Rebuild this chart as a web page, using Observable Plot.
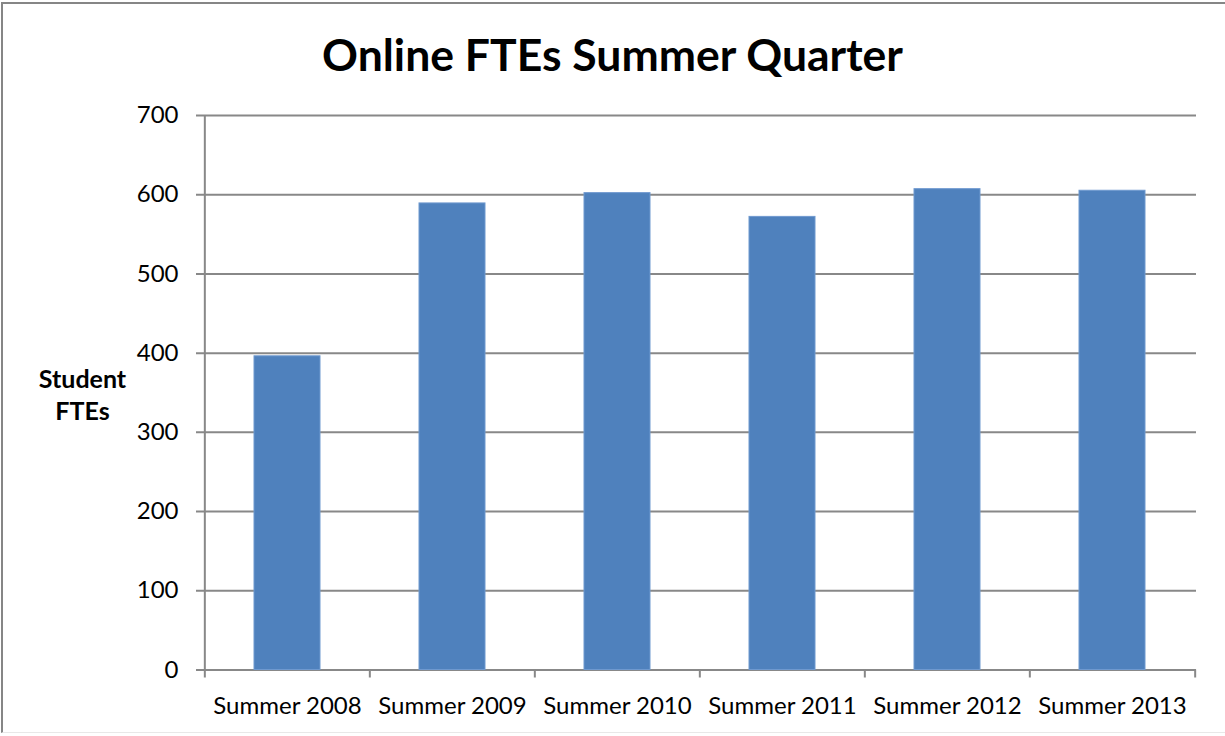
<!DOCTYPE html>
<html><head><meta charset="utf-8">
<script src="https://cdn.jsdelivr.net/npm/d3@7"></script>
<script src="https://cdn.jsdelivr.net/npm/@observablehq/plot@0.6"></script>
<style>
body{margin:0;background:#fff;}
#chart{position:relative;width:1225px;height:736px;overflow:hidden;font-family:Lato,"Open Sans",sans-serif;color:#000;background:#fff;}
#frame{position:absolute;left:1px;top:2px;width:1240px;height:731px;border-left:2px solid #868686;border-top:2px solid #868686;border-bottom:1px solid #e8e8e8;box-sizing:border-box;pointer-events:none;z-index:2;}
#title{position:absolute;left:0;top:24px;width:1225px;text-align:center;font-weight:bold;font-size:44.5px;line-height:60px;}
#plot{position:absolute;left:0;top:95px;}
</style></head>
<body>
<div id="chart"><div id="title">Online FTEs Summer Quarter</div><div id="plot"></div><div id="frame"></div></div>
<script>
const categories = ["Summer 2008","Summer 2009","Summer 2010","Summer 2011","Summer 2012","Summer 2013"];
const ftes = [396, 589, 602, 572, 607, 605];
const yTicks = [0, 100, 200, 300, 400, 500, 600, 700];
const yLabel = "Student\nFTEs";

const W = 1225, H = 641, mL = 204, mR = 29, mT = 20, mB = 66.5;
const padIn = 0.6, padOut = 0.3;
const step = (W - mL - mR) / (categories.length - padIn + 2 * padOut);
const data = categories.map((c, i) => ({cat: c, v: ftes[i]}));
const grid = "#888888";

const chart = Plot.plot({
  width: W, height: H,
  marginLeft: mL, marginRight: mR, marginTop: mT, marginBottom: mB,
  style: {fontFamily: "Lato, 'Open Sans', sans-serif", background: "transparent", color: "#000"},
  x: {domain: categories, paddingInner: padIn, paddingOuter: padOut, label: null},
  y: {domain: [0, 700], ticks: yTicks, label: null},
  marks: [
    Plot.ruleY(yTicks, {y: d => d, stroke: grid, strokeWidth: 2, insetLeft: -8}),
    Plot.barY(data, {x: "cat", y: "v", fill: "#4f81bd", stroke: "#6f99cf", strokeWidth: 1}),
    Plot.ruleX([categories[0]], {x: d => d, dx: -step / 2, stroke: grid, strokeWidth: 2}),
    Plot.ruleX(categories, {x: d => d, dx: -step / 2, y1: 0, y2: 0, insetBottom: -8, stroke: grid, strokeWidth: 2}),
    Plot.ruleX([categories[categories.length - 1]], {x: d => d, dx: step / 2, y1: 0, y2: 0, insetBottom: -8, stroke: grid, strokeWidth: 2}),
    Plot.axisY({ticks: yTicks, tickSize: 0, tickPadding: 26, fontSize: 24, label: null}),
    Plot.axisX({tickSize: 0, tickPadding: 27, fontSize: 24, label: null}),
    Plot.text([yLabel], {frameAnchor: "left", dx: -122, dy: 1, text: d => d, fontSize: 25, fontWeight: "bold", lineHeight: 1.3, textAnchor: "middle", fill: "#000"})
  ]
});
document.getElementById("plot").appendChild(chart);
</script>
</body></html>
